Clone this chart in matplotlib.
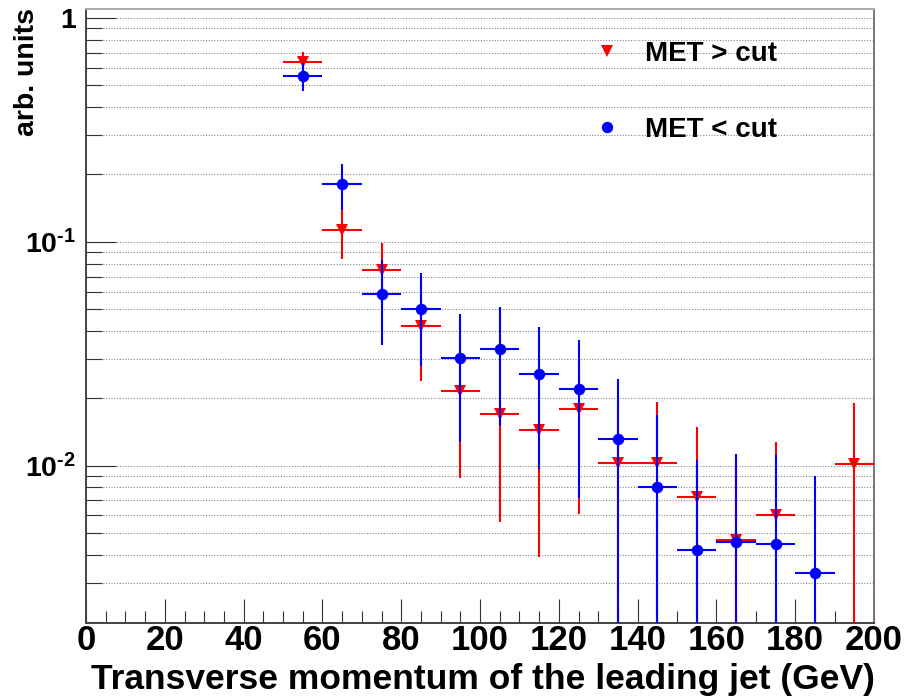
import numpy as np
import matplotlib
matplotlib.use('Agg')
import matplotlib.pyplot as plt
from matplotlib.lines import Line2D
from matplotlib import font_manager
from matplotlib.ticker import FixedLocator, MultipleLocator, NullFormatter

# ---------------- data ----------------
bin_centers = [55, 65, 75, 85, 95, 105, 115, 125, 135, 145, 155, 165, 175, 185, 195]
bin_half_width = [5] * len(bin_centers)

met_above = [0.636, 0.1129, 0.0751, 0.0420, 0.0216, 0.0170, 0.0145, 0.0179,
             0.0103, 0.0103, 0.00727, 0.00466, 0.00602, np.nan, 0.0102]
met_above_err = [0.071, 0.0295, 0.024, 0.018, 0.0128, 0.0114, 0.0106, 0.0118,
                 0.0089, 0.0089, 0.0076, 0.0060, 0.0068, np.nan, 0.0089]

met_below = [0.551, 0.1813, 0.0587, 0.0501, 0.0303, 0.0331, 0.0257, 0.0219,
             0.0131, 0.00803, 0.00419, 0.00456, 0.00446, 0.00333, np.nan]
met_below_err = [0.077, 0.042, 0.024, 0.0223, 0.0175, 0.018, 0.016, 0.0147,
                 0.0114, 0.0089, 0.0064, 0.0067, 0.0067, 0.0057, np.nan]

x_ticks = [0, 20, 40, 60, 80, 100, 120, 140, 160, 180, 200]
x_tick_labels = [str(v) for v in x_ticks]
y_ticks = [0.01, 0.1, 1.0]
y_tick_labels = [r'$10^{\text{-2}}$', r'$10^{\text{-1}}$', '1']
labels = ['MET > cut', 'MET < cut']
x_title = 'Transverse momentum of the leading jet (GeV)'
y_title = 'arb. units'

# ---------------- fonts ----------------
names = {f.name for f in font_manager.fontManager.ttflist}
main_font = 'Liberation Sans' if 'Liberation Sans' in names else 'DejaVu Sans'

plt.rcParams['font.family'] = [main_font, 'DejaVu Sans']
plt.rcParams['font.weight'] = 'bold'
plt.rcParams['mathtext.fontset'] = 'custom'
plt.rcParams['mathtext.rm'] = main_font + ':bold'
plt.rcParams['mathtext.it'] = main_font + ':bold'
plt.rcParams['mathtext.bf'] = main_font + ':bold'
plt.rcParams['mathtext.default'] = 'rm'

RED = '#ff0000'
BLUE = '#0000ff'

W, H = 907, 700
fig = plt.figure(figsize=(W / 100, H / 100), dpi=100)
ax = fig.add_axes([86 / W, 1 - 623 / H, (874 - 86) / W, (623 - 9) / H])
ax.set_yscale('log')


def asym(vals, errs):
    v = np.asarray(vals, float)
    e = np.asarray(errs, float)
    low = np.where(v - e > 0, e, v * (1 - 1e-7))
    return [low, e]


common = dict(ls='none', elinewidth=1.5, capsize=2.0, capthick=1.2)
ax.errorbar(bin_centers, met_above, yerr=asym(met_above, met_above_err),
            xerr=bin_half_width, fmt='v', color=RED, ms=8.2, mew=0,
            zorder=3, **common)
ax.errorbar(bin_centers, met_below, yerr=asym(met_below, met_below_err),
            xerr=bin_half_width, fmt='o', color=BLUE, ms=8.3, mew=0,
            zorder=4, **common)

ax.set_xlim(0, 200)
ax.set_ylim(0.001983, 1.097)

# ticks
ax.xaxis.set_major_locator(FixedLocator(x_ticks))
ax.set_xticklabels(x_tick_labels, fontweight='bold', fontsize=25)
ax.xaxis.set_minor_locator(MultipleLocator(5))
ax.tick_params(axis='x', which='major', direction='in', length=17, width=0.8,
               color='#333333', pad=1, top=False)
ax.tick_params(axis='x', which='minor', direction='in', length=8.6, width=0.8,
               color='#333333', top=False)

ax.yaxis.set_major_locator(FixedLocator(y_ticks))
ax.set_yticklabels(y_tick_labels, fontsize=20.5)
ax.yaxis.set_minor_locator(FixedLocator(
    [m * 10.0 ** e for e in (-3, -2, -1) for m in range(2, 10)]))
ax.yaxis.set_minor_formatter(NullFormatter())
ax.tick_params(axis='y', which='major', direction='in', length=21.6, width=0.8,
               color='#333333', pad=7, right=False)
ax.tick_params(axis='y', which='minor', direction='in', length=11.5, width=0.8,
               color='#333333', right=False)

ax.yaxis.grid(True, which='both', linestyle=(0, (1, 1.5)), color='#888888',
              linewidth=0.8)
ax.xaxis.grid(False)
ax.set_axisbelow(True)

for side in ['left', 'bottom']:
    ax.spines[side].set_color('#444444')
    ax.spines[side].set_linewidth(1.4)
ax.spines['right'].set_color('#777777')
ax.spines['right'].set_linewidth(1.4)
ax.spines['top'].set_color('#aaaaaa')
ax.spines['top'].set_linewidth(1.4)

# titles
fig.text(875 / W, 1 - 689 / H, x_title, ha='right', va='baseline',
         fontweight='bold', fontsize=25.5)
fig.text(27 / W, 1 - 8 / H, y_title, ha='center', va='top', rotation=90,
         fontsize=20.5, fontweight='bold')

# legend
handles = [Line2D([], [], marker='v', color=RED, ls='none', ms=8.2, mew=0),
           Line2D([], [], marker='o', color=BLUE, ls='none', ms=8.2, mew=0)]
leg = ax.legend(handles, labels, loc='upper left',
                bbox_to_anchor=(593 / W, 1 - 41 / H), bbox_transform=fig.transFigure,
                frameon=False, handlelength=1.0, handletextpad=0.86,
                labelspacing=1.8, borderpad=0, borderaxespad=0,
                prop={'family': main_font, 'weight': 'bold', 'size': 20})

fig.savefig('out.png', dpi=100)
